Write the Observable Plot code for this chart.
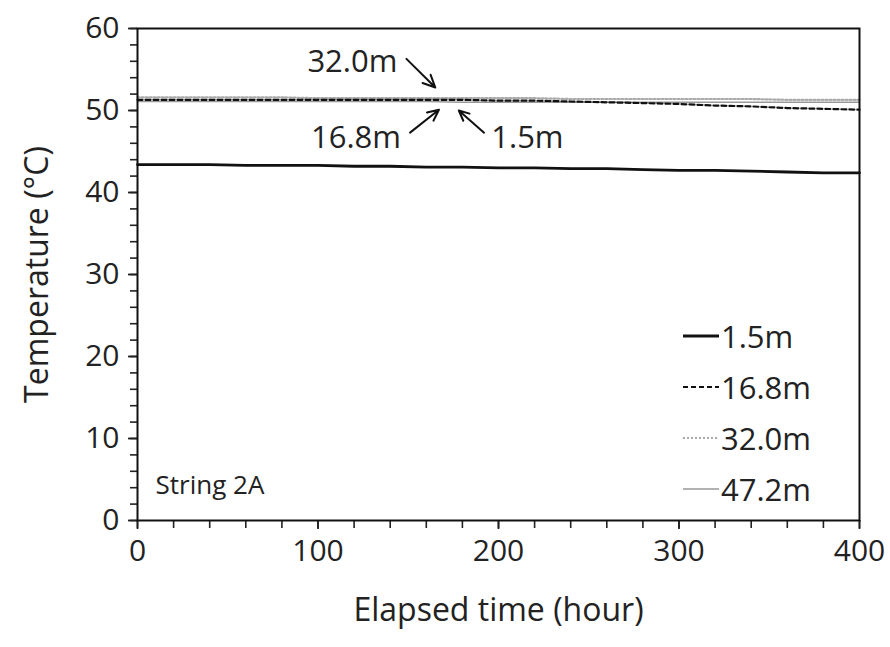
<!DOCTYPE html>
<html>
<head>
<meta charset="utf-8">
<script src="https://cdn.jsdelivr.net/npm/d3@7"></script>
<script src="https://cdn.jsdelivr.net/npm/@observablehq/plot@0.6"></script>
<style>
  html, body { margin: 0; padding: 0; background: #fff; }
  #wrap { position: relative; width: 890px; height: 647px; font-family: "Open Sans", sans-serif; color: #222; }
  #legend { position: absolute; left: 683px; top: 310px; }
  .row { display: flex; align-items: center; height: 51px; font-size: 31px; }
  .row svg { margin-right: 2px; }
</style>
</head>
<body>
<div id="wrap"><div id="chart"></div><div id="legend"></div></div>
<script>
// ---- data ----
const hours = [0, 20, 40, 60, 80, 100, 120, 140, 160, 180, 200, 220, 240, 260, 280, 300, 320, 340, 360, 380, 400];
const t1_5  = [43.4, 43.4, 43.4, 43.3, 43.3, 43.3, 43.2, 43.2, 43.1, 43.1, 43.0, 43.0, 42.9, 42.9, 42.8, 42.7, 42.7, 42.6, 42.5, 42.4, 42.4];
const t16_8 = [51.3, 51.3, 51.3, 51.3, 51.3, 51.3, 51.3, 51.3, 51.3, 51.3, 51.2, 51.2, 51.1, 51.0, 50.9, 50.8, 50.6, 50.5, 50.3, 50.2, 50.1];
const t32_0 = [51.6, 51.6, 51.6, 51.6, 51.6, 51.5, 51.5, 51.5, 51.5, 51.5, 51.5, 51.5, 51.4, 51.4, 51.4, 51.4, 51.4, 51.4, 51.3, 51.3, 51.3];
const t47_2 = [51.1, 51.1, 51.1, 51.1, 51.1, 51.1, 51.1, 51.1, 51.1, 51.0, 51.0, 51.0, 51.0, 51.0, 51.0, 51.0, 51.0, 51.0, 51.0, 51.0, 51.0];
const seriesNames = ["1.5m", "16.8m", "32.0m", "47.2m"];
const seriesValues = [t1_5, t16_8, t32_0, t47_2];
const xTicks = [0, 100, 200, 300, 400];
const yTicks = [0, 10, 20, 30, 40, 50, 60];
// annotation arrows (data coordinates: hour, °C)
const annoLabels = ["32.0m", "16.8m", "1.5m"];
const annoFromX = [149, 151, 192];
const annoFromY = [56.3, 47.3, 47.3];
const annoToX = [165, 167, 178];
const annoToY = [52.8, 50.1, 50.0];
const annoTextX = [144, 146, 196];
const annoTextY = [55.9, 46.6, 46.6];
const annoAnchor = ["end", "end", "start"];

// ---- styles ----
const styles = {
  "1.5m":  {stroke: "#111", strokeWidth: 2.8, dash: null},
  "16.8m": {stroke: "#111", strokeWidth: 2.2, dash: "5,3"},
  "32.0m": {stroke: "#aaa", strokeWidth: 2.2, dash: "2,2"},
  "47.2m": {stroke: "#999", strokeWidth: 1.4, dash: null}
};

const rows = [];
seriesNames.forEach((name, i) => hours.forEach((h, j) => rows.push({series: name, hour: h, temp: seriesValues[i][j]})));
const anno = annoLabels.map((l, i) => ({label: l, x1: annoFromX[i], y1: annoFromY[i], x2: annoToX[i], y2: annoToY[i], tx: annoTextX[i], ty: annoTextY[i], anchor: annoAnchor[i]}));

const lineMarks = seriesNames.slice().reverse().map(name => Plot.line(rows.filter(d => d.series === name), {
  x: "hour", y: "temp", stroke: styles[name].stroke, strokeWidth: styles[name].strokeWidth,
  strokeDasharray: styles[name].dash, curve: "linear"
}));

const font = "Open Sans, sans-serif";
const chart = Plot.plot({
  width: 890, height: 647,
  marginLeft: 137, marginRight: 31, marginTop: 28, marginBottom: 127,
  style: {fontFamily: font, fontSize: "30px", color: "#222", background: "#fff"},
  x: {domain: [0, 400]},
  y: {domain: [0, 60]},
  marks: [
    // minor ticks
    Plot.axisY(d3.range(0, 61, 2), {tickSize: 7, strokeWidth: 1.6, text: null, label: null}),
    Plot.axisX(d3.range(0, 401, 20), {tickSize: 8, strokeWidth: 1.6, text: null, label: null}),
    // major ticks and labels
    Plot.axisY(yTicks, {tickSize: 9, strokeWidth: 1.8, tickPadding: 9, fontSize: 30,
      label: "Temperature (°C)", labelAnchor: "center", labelArrow: "none", labelOffset: 112}),
    Plot.axisX(xTicks, {tickSize: 9, strokeWidth: 1.8, tickPadding: 10, fontSize: 30,
      label: "Elapsed time (hour)", labelAnchor: "center", labelArrow: "none", labelOffset: 100}),
    ...lineMarks,
    Plot.arrow(anno, {x1: "x1", y1: "y1", x2: "x2", y2: "y2", stroke: "#111", strokeWidth: 2, headLength: 11, headAngle: 50}),
    Plot.text(anno.filter(d => d.anchor === "end"), {x: "tx", y: "ty", text: "label", textAnchor: "end", fontSize: 31, fill: "#222"}),
    Plot.text(anno.filter(d => d.anchor === "start"), {x: "tx", y: "ty", text: "label", textAnchor: "start", fontSize: 31, fill: "#222"}),
    Plot.text(["String 2A"], {frameAnchor: "bottom-left", dx: 18, dy: -27, textAnchor: "start", fontSize: 26, fill: "#222"}),
    Plot.frame({stroke: "#111", strokeWidth: 2})
  ]
});
// enlarge axis titles
chart.querySelectorAll("g[aria-label='y-axis label'] text, g[aria-label='x-axis label'] text").forEach(t => t.setAttribute("font-size", "32"));
document.getElementById("chart").appendChild(chart);

// legend overlay
const legend = document.getElementById("legend");
seriesNames.forEach(name => {
  const s = styles[name];
  const row = document.createElement("div");
  row.className = "row";
  row.innerHTML = `<svg width="36" height="12"><line x1="0" y1="6" x2="36" y2="6" stroke="${s.stroke}" stroke-width="${s.strokeWidth}" ${s.dash ? `stroke-dasharray="${s.dash}"` : ""}/></svg><span>${name}</span>`;
  legend.appendChild(row);
});
</script>
</body>
</html>
